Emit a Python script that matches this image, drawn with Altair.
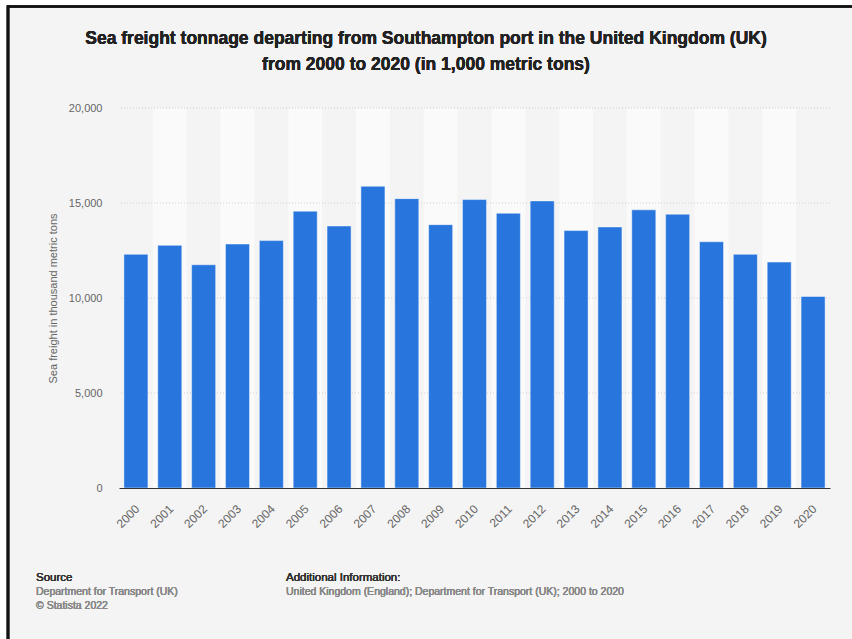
import altair as alt
import pandas as pd

years = [str(y) for y in range(2000, 2021)]
values = [12300, 12770, 11750, 12840, 13020, 14570, 13790, 15880, 15230, 13860,
          15180, 14460, 15110, 13550, 13740, 14640, 14410, 12960, 12300, 11890, 10080]
grid_values = [5000, 10000, 15000, 20000]
y_ticks = [0, 5000, 10000, 15000, 20000]
title_lines = ["Sea freight tonnage departing from Southampton port in the United Kingdom (UK)",
               "from 2000 to 2020 (in 1,000 metric tons)"]
y_title = "Sea freight in thousand metric tons"
source_head = "Source"
source_lines = ["Department for Transport (UK)", "© Statista 2022"]
info_head = "Additional Information:"
info_lines = ["United Kingdom (England); Department for Transport (UK); 2000 to 2020"]

CW, CH = 852, 639
PAD_L, PAD_T, PAD_R, PAD_B = 119, 108, 22, 151
W, H = CW - PAD_L - PAD_R, CH - PAD_T - PAD_B
FONT = "Liberation Sans"

df = pd.DataFrame({"year": years, "value": values})
stripe_df = pd.DataFrame({"year": years[1::2]})
grid_df = pd.DataFrame({"g": grid_values})

y_axis = alt.Axis(values=y_ticks, labelExpr="format(datum.value, ',')", grid=False, ticks=False,
                  domain=False, labelColor="#666666", labelFontSize=11, labelFont=FONT,
                  labelPadding=17, title=y_title, titleColor="#666666", titleFontSize=11,
                  titleFont=FONT, titleFontWeight="normal", titlePadding=10, zindex=1)
y_scale = alt.Scale(domain=[0, 20000], nice=False)

stripes = alt.Chart(stripe_df).mark_rect(color="#fafafa").encode(
    x=alt.X("year:N", scale=alt.Scale(domain=years, paddingInner=0, paddingOuter=0), axis=None),
    y=alt.Y(datum=20000, scale=y_scale, axis=y_axis),
    y2=alt.Y2(datum=0),
)

grid = alt.Chart(grid_df).mark_rule(color="#cfcfcf", strokeDash=[1, 2], strokeWidth=1).encode(
    y=alt.Y("g:Q", scale=y_scale, axis=y_axis),
)

bars = alt.Chart(df).mark_bar(color="#2876dd", stroke="#ffffff", strokeOpacity=0.45, strokeWidth=1).encode(
    x=alt.X("year:N", scale=alt.Scale(paddingInner=0.29, paddingOuter=0.145),
            axis=alt.Axis(title=None, labelAngle=-45, labelColor="#666666", labelFontSize=12,
                          labelFont=FONT, ticks=False, labelPadding=15, labelOffset=-2,
                          domainColor="#333333", domainWidth=1.2, zindex=1)),
    y=alt.Y("value:Q", scale=y_scale, axis=y_axis),
)

frame = [
    alt.Chart(grid_df).mark_rule(color="#ffffff", strokeWidth=7).encode(
        x=alt.value(-PAD_L + 3.5), y=alt.value(-PAD_T), y2=alt.value(CH - PAD_T)),
    alt.Chart(grid_df).mark_rule(color="#ffffff", strokeWidth=6).encode(
        y=alt.value(-PAD_T + 3), x=alt.value(-PAD_L), x2=alt.value(CW - PAD_L)),
    alt.Chart(grid_df).mark_rule(color="#111111", strokeWidth=2.5).encode(
        x=alt.value(-PAD_L + 8), y=alt.value(-PAD_T + 5.5), y2=alt.value(CH - PAD_T)),
    alt.Chart(grid_df).mark_rule(color="#111111", strokeWidth=2).encode(
        y=alt.value(-PAD_T + 6.5), x=alt.value(-PAD_L + 7), x2=alt.value(CW - PAD_L)),
]

def txt(text, x, y, color, size, align="left", weight="normal", lh=13.5):
    return alt.Chart(grid_df).mark_text(align=align, baseline="alphabetic", font=FONT,
                                        fontSize=size, color=color, lineHeight=lh,
                                        fontWeight=weight).encode(
        x=alt.value(x - PAD_L), y=alt.value(y - PAD_T), text=alt.value(text))

texts = [
    txt(title_lines, CW / 2, 44, "#222222", 17.5, align="center", weight="bold", lh=26),
    txt(source_head, 36, 581, "#333333", 11.5),
    txt(source_lines, 36, 595, "#888888", 10.5),
    txt(info_head, 286, 581, "#333333", 11.5),
    txt(info_lines, 286, 595, "#888888", 10.5),
]

chart = alt.layer(stripes, grid, bars, *frame, *texts).resolve_scale(x="independent").properties(
    width=W, height=H,
    autosize=alt.AutoSizeParams(type="none"),
    padding={"left": PAD_L, "top": PAD_T, "right": PAD_R, "bottom": PAD_B},
).configure(background="#f4f4f4").configure_view(stroke=None)

chart.save("out.html", embed_options={"renderer": "svg", "actions": False})
